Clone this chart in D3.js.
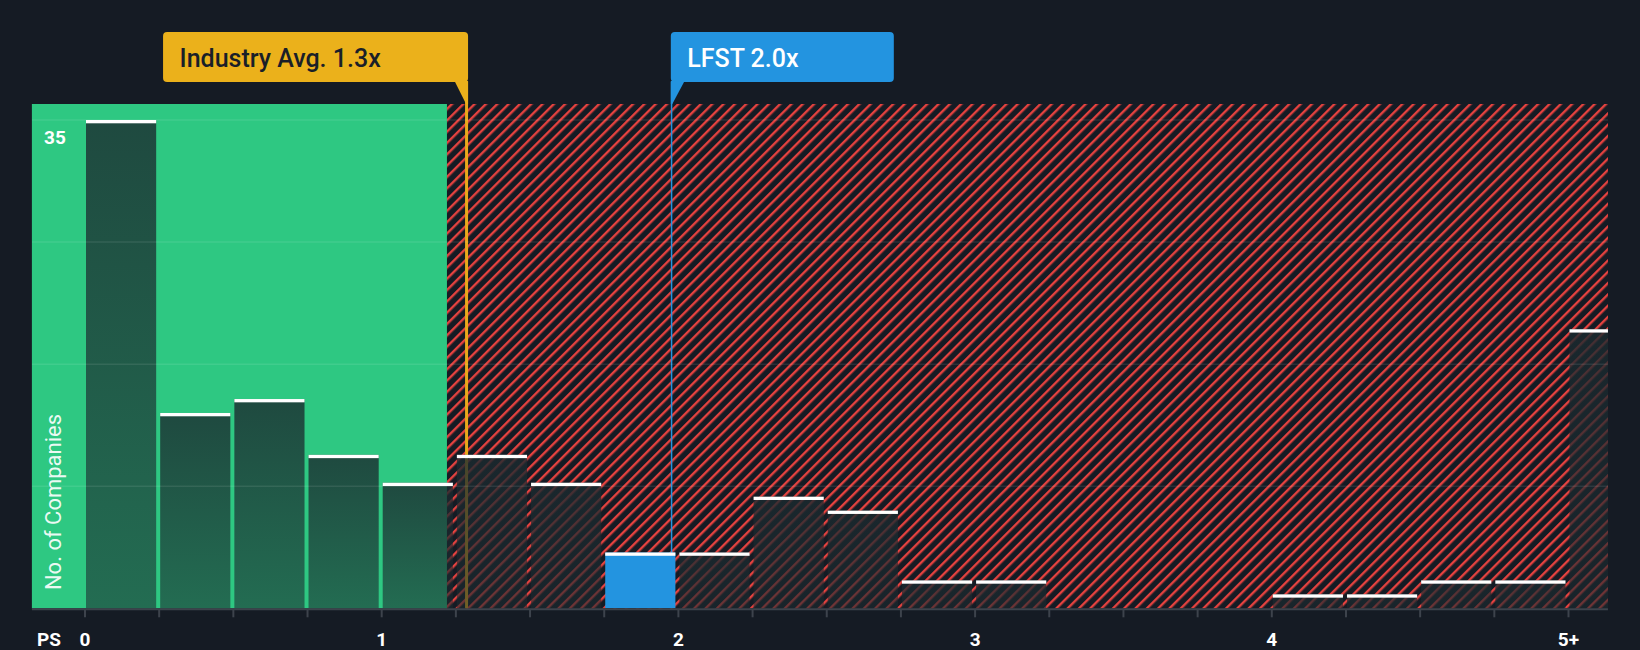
<!DOCTYPE html>
<html>
<head>
<meta charset="utf-8">
<script src="https://cdn.jsdelivr.net/npm/d3@7/dist/d3.min.js"></script>
<style>
  html, body { margin: 0; padding: 0; background: #151b24; }
  svg { display: block; font-family: Roboto, "Noto Sans", sans-serif; }
</style>
</head>
<body>
<svg id="chart" width="1640" height="650"></svg>
<script>
// ---- data ----
const binStarts = [0, 0.25, 0.5, 0.75, 1, 1.25, 1.5, 1.75, 2, 2.25, 2.5, 2.75, 3, 3.25, 3.5, 3.75, 4, 4.25, 4.5, 4.75, 5];
const counts    = [35, 14, 15, 11, 9, 11, 9, 4, 4, 8, 7, 2, 2, 0, 0, 0, 1, 1, 2, 2, 20];
const binWidth = 0.25;
const tickValues = [0, 1, 2, 3, 4, 5];
const tickLabels = ["0", "1", "2", "3", "4", "5+"];
const yTickLabel = 35;
const industryAvg = 1.286;
const industryLabel = "Industry Avg. 1.3x";
const companyValue = 1.977;
const companyLabel = "LFST 2.0x";
const fairThreshold = 1.22;
const xMin = -0.179, xMax = 5.133;

// ---- layout ----
const W = 1640, H = 650;
const plotTop = 104, baseY = 608.3;
const x = d3.scaleLinear().domain([0, 5]).range([85, 1568.5]);
const y = d3.scaleLinear().domain([0, 35]).range([baseY, 120]);
const left = x(xMin), right = x(xMax);

const svg = d3.select("#chart");
const defs = svg.append("defs");

const pat = defs.append("pattern").attr("id", "hatch")
  .attr("patternUnits", "userSpaceOnUse").attr("width", 8).attr("height", 8)
  .attr("patternTransform", "rotate(45)");
pat.append("rect").attr("width", 8).attr("height", 8).attr("fill", "#151b24");
pat.append("rect").attr("x", 0).attr("y", 0).attr("width", 2.4).attr("height", 8)
  .attr("fill", "#e5423f");

const grad = defs.append("linearGradient").attr("id", "barGrad")
  .attr("x1", 0).attr("y1", 0).attr("x2", 0).attr("y2", 1);
grad.append("stop").attr("offset", "0%").attr("stop-color", "#1b2a2f").attr("stop-opacity", 0.8);
grad.append("stop").attr("offset", "100%").attr("stop-color", "#1b2a2f").attr("stop-opacity", 0.58);

const clip = defs.append("clipPath").attr("id", "plotClip");
clip.append("rect").attr("x", left).attr("y", plotTop).attr("width", right - left).attr("height", baseY - plotTop);

// background regions
svg.append("rect").attr("x", left).attr("y", plotTop)
  .attr("width", x(fairThreshold) - left).attr("height", baseY - plotTop)
  .attr("fill", "#2ec882");
svg.append("rect").attr("x", x(fairThreshold)).attr("y", plotTop)
  .attr("width", right - x(fairThreshold)).attr("height", baseY - plotTop)
  .attr("fill", "url(#hatch)");

// reference lines (under bars)
svg.append("line").attr("x1", x(industryAvg)).attr("x2", x(industryAvg))
  .attr("y1", 82).attr("y2", baseY).attr("stroke", "#e8a91a").attr("stroke-width", 3);
svg.append("line").attr("x1", x(companyValue)).attr("x2", x(companyValue))
  .attr("y1", 82).attr("y2", baseY).attr("stroke", "#2394e0").attr("stroke-width", 1.5);

// bars
const g = svg.append("g").attr("clip-path", "url(#plotClip)");
const bins = binStarts.map((s, i) => ({ s, v: counts[i] }));
const isCompany = d => companyValue >= d.s && companyValue < d.s + binWidth;
g.selectAll("rect.bar").data(bins.filter(d => d.v > 0)).join("rect")
  .attr("class", "bar")
  .attr("x", d => x(d.s) + 1)
  .attr("width", d => x(d.s + binWidth) - x(d.s) - 4)
  .attr("y", d => y(d.v))
  .attr("height", d => baseY - y(d.v))
  .attr("fill", d => isCompany(d) ? "#2394e0" : "url(#barGrad)");
g.selectAll("rect.cap").data(bins.filter(d => d.v > 0)).join("rect")
  .attr("class", "cap")
  .attr("x", d => x(d.s) + 1)
  .attr("width", d => x(d.s + binWidth) - x(d.s) - 4)
  .attr("y", d => y(d.v))
  .attr("height", 3.3)
  .attr("fill", "#ffffff");

// gridlines (over bars)
const gridVals = d3.range(1, 5).map(k => 35 * k / 4);
svg.selectAll("line.grid").data(gridVals).join("line")
  .attr("x1", left).attr("x2", right)
  .attr("y1", d => y(d)).attr("y2", d => y(d))
  .attr("stroke", "#ffffff").attr("stroke-opacity", 0.09).attr("stroke-width", 1.5);

// x axis
svg.append("line").attr("x1", left).attr("x2", right).attr("y1", baseY + 1).attr("y2", baseY + 1)
  .attr("stroke", "#3d434c").attr("stroke-width", 2);
const minorTicks = d3.range(0, 21).map(k => k * binWidth);
svg.selectAll("line.tick").data(minorTicks).join("line")
  .attr("x1", d => x(d)).attr("x2", d => x(d))
  .attr("y1", baseY + 1).attr("y2", baseY + 9)
  .attr("stroke", "#3d434c").attr("stroke-width", 2);
svg.selectAll("text.xl").data(tickValues).join("text")
  .attr("x", d => x(d)).attr("y", 645.5)
  .attr("text-anchor", "middle").attr("fill", "#ffffff")
  .attr("font-size", 19).attr("font-weight", 700)
  .text((d, i) => tickLabels[i]);
svg.append("text").attr("x", 37).attr("y", 645.5).attr("fill", "#ffffff")
  .attr("font-size", 19).attr("font-weight", 700).text("PS");

// y label
svg.append("text").attr("x", 44).attr("y", y(yTickLabel) + 23.5)
  .attr("fill", "#ffffff").attr("font-size", 19).attr("font-weight", 700).text(yTickLabel);
svg.append("text").attr("transform", `translate(61,502) rotate(-90)`)
  .attr("text-anchor", "middle").attr("fill", "#ffffff").attr("fill-opacity", 0.92)
  .attr("font-size", 22).text("No. of Companies");

// annotation boxes
function callout(xv, label, color, textColor, side, boxW) {
  const lx = x(xv);
  const top = 32, bot = 82;
  let bx;
  if (side === "left") {
    bx = lx + 1.5 - boxW;
    svg.append("path").attr("d", `M${lx - 12},${bot - 1} L${lx - 0.5},${plotTop} L${lx + 1.5},${plotTop} L${lx + 1.5},${bot - 1} Z`).attr("fill", color);
  } else {
    bx = lx - 0.75;
    svg.append("path").attr("d", `M${lx - 0.75},${bot - 1} L${lx - 0.75},${plotTop} L${lx + 0.75},${plotTop} L${lx + 13},${bot - 1} Z`).attr("fill", color);
  }
  svg.append("rect").attr("x", bx).attr("y", top).attr("width", boxW).attr("height", bot - top)
    .attr("rx", 4).attr("fill", color);
  svg.append("text").attr("x", bx + 16.5).attr("y", 66.5).attr("fill", textColor)
    .attr("font-size", 25).attr("font-weight", 500).text(label);
}
callout(industryAvg, industryLabel, "#ebb11b", "#1a1f28", "left", 305);
callout(companyValue, companyLabel, "#2394e0", "#ffffff", "right", 223);
</script>
</body>
</html>
